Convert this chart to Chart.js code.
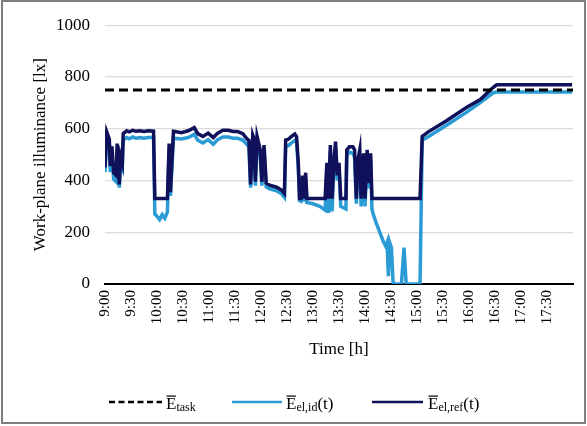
<!DOCTYPE html>
<html>
<head>
<meta charset="utf-8">
<script src="https://cdn.jsdelivr.net/npm/chart.js@4"></script>
<style>
  html, body { margin: 0; padding: 0; background: #fff; }
  #wrap { width: 587px; height: 426px; position: relative; }
</style>
</head>
<body>
<div id="wrap"><canvas id="c" width="587" height="426"></canvas></div>
<script>
// Minutes after 9:00 at which the illuminance was recorded
const minutes = [
  0, 2, 5, 6, 8, 10, 13, 14, 16.5, 18, 20, 21, 25, 28, 32, 36, 40, 45, 50, 56,
  57.5, 60, 63, 66, 69, 72, 74, 75.5, 79, 81, 88, 96, 103, 107, 113, 119, 125, 130,
  136, 142, 148, 153, 159, 163.5, 166, 168, 170.5, 172, 173.5, 175.5, 179, 181, 183.5,
  186, 190, 198, 204, 207, 208.5, 212, 215, 219, 221, 223, 224.5, 226, 228, 229.5,
  231.5, 233, 240, 248, 254, 256, 258, 260, 262, 264, 266, 268, 270, 272, 278, 279,
  282, 286, 288, 290, 292, 294, 295.5, 298.5, 300, 302.5, 304, 306.5, 308, 309, 313,
  317, 321, 324, 325.5, 327, 328.5, 330.5, 332.5, 342, 345, 347.5, 363.5, 366, 373,
  394, 417, 433, 448, 452, 539
];

// Reference electric-lighting illuminance E_el,ref(t) [lx]
const refLux = [
  450, 588, 560, 456, 532, 430, 420, 543, 385, 494, 468, 581, 592, 588, 594, 590, 592, 589, 592, 591,
  330, 330, 330, 330, 330, 330, 543, 355, 590, 589, 585, 592, 604, 581, 570, 583, 566, 583,
  594, 594, 589, 589, 581, 562, 555, 385, 575, 560, 395, 570, 520, 395, 537,
  390, 382, 374, 362, 350, 556, 560, 570, 580, 570, 470, 330, 330, 419, 330,
  430, 330, 330, 330, 330, 468, 330, 537, 330, 468, 550, 420, 468, 330, 330, 518,
  530, 530, 518, 330, 480, 518, 330, 505, 330, 518, 390, 505, 330, 330, 330,
  330, 330, 330, 330, 330, 330, 330, 330, 330, 330, 330, 330, 570, 588,
  631, 682, 713, 760, 770, 770
];

// Ideal electric-lighting illuminance E_el,id(t) [lx]
const idLux = [
  432, 565, 540, 432, 505, 405, 395, 520, 372, 470, 450, 555, 566, 561, 568, 563, 566, 563, 566, 566,
  270, 262, 249, 268, 254, 278, 520, 340, 565, 563, 560, 566, 578, 556, 545, 558, 540, 558,
  568, 568, 563, 563, 556, 540, 530, 372, 550, 535, 380, 545, 500, 380, 515,
  375, 368, 360, 348, 335, 530, 535, 545, 555, 550, 450, 322, 320, 400, 318,
  410, 315, 310, 300, 285, 440, 275, 510, 280, 445, 525, 400, 450, 300, 290, 495,
  510, 505, 490, 310, 455, 495, 300, 480, 300, 495, 370, 480, 290, 275, 235,
  200, 165, 145, 160, 30, 160, 140, 0, 0, 141, 0, 0, 555, 569,
  613, 663, 701, 739, 742, 742
];

// Required task illuminance E_task [lx]
const taskLux = 750;

// Half-hour tick labels from 9:00 to 17:30
const timeTicks = [
  '9:00', '9:30', '10:00', '10:30', '11:00', '11:30', '12:00', '12:30', '13:00',
  '13:30', '14:00', '14:30', '15:00', '15:30', '16:00', '16:30', '17:00', '17:30'
];

const FONT = '"Liberation Serif", "Times New Roman", serif';
const DARK = '#10115a';
const LIGHT = '#2b9bd6';

const pts = vals => minutes.map((m, i) => ({ x: m, y: vals[i] }));

// Border around the figure and the legend below the axis title
const frameAndLegend = {
  id: 'frameAndLegend',
  afterDraw(chart) {
    const ctx = chart.ctx;
    ctx.save();
    ctx.strokeStyle = '#7f7f7f';
    ctx.lineWidth = 2;
    ctx.strokeRect(2, 1, 583, 422);

    const ly = 402;
    const base = 409;
    const sample = (x0, x1, color, dash, width) => {
      ctx.beginPath();
      ctx.setLineDash(dash);
      ctx.strokeStyle = color;
      ctx.lineWidth = width;
      ctx.moveTo(x0, ly);
      ctx.lineTo(x1, ly);
      ctx.stroke();
      ctx.setLineDash([]);
    };
    const label = (x, sub, tail) => {
      ctx.fillStyle = '#000';
      ctx.textBaseline = 'alphabetic';
      ctx.textAlign = 'left';
      ctx.font = '17px ' + FONT;
      ctx.fillText('E', x, base);
      const w = ctx.measureText('E').width;
      ctx.fillRect(x + 0.5, base - 13.5, w - 1, 1.2);
      ctx.font = '12px ' + FONT;
      ctx.fillText(sub, x + w, base + 2);
      const sw = ctx.measureText(sub).width;
      if (tail) {
        ctx.font = '17px ' + FONT;
        ctx.fillText(tail, x + w + sw, base);
      }
    };
    sample(109, 162, '#000', [6, 3.5], 2.5);
    label(166, 'task', '');
    sample(232, 282, LIGHT, [], 2.5);
    label(286, 'el,id', '(t)');
    sample(372, 423, DARK, [], 2.5);
    label(428, 'el,ref', '(t)');
    ctx.restore();
  }
};

new Chart(document.getElementById('c'), {
  type: 'line',
  data: {
    datasets: [
      {
        label: 'E task',
        data: [{ x: 0, y: taskLux }, { x: 540, y: taskLux }],
        borderColor: '#000',
        borderWidth: 3,
        borderDash: [9, 5],
        pointRadius: 0,
        order: 1
      },
      {
        label: 'E el,id(t)',
        data: pts(idLux),
        borderColor: LIGHT,
        borderWidth: 3.5,
        pointRadius: 0,
        tension: 0,
        order: 3
      },
      {
        label: 'E el,ref(t)',
        data: pts(refLux),
        borderColor: DARK,
        borderWidth: 3.5,
        pointRadius: 0,
        tension: 0,
        order: 2
      }
    ]
  },
  options: {
    responsive: false,
    animation: false,
    events: [],
    layout: { padding: { left: 0, top: 19, right: 14, bottom: 50 } },
    plugins: {
      legend: { display: false },
      tooltip: { enabled: false }
    },
    scales: {
      x: {
        type: 'linear',
        min: 0,
        max: 540,
        afterBuildTicks: s => { s.ticks = s.ticks.filter(t => t.value < 540); },
        afterFit: s => { s.height = 92; },
        grid: { display: false, drawTicks: false },
        border: { display: true, color: '#000', width: 2 },
        ticks: {
          stepSize: 30,
          autoSkip: false,
          maxRotation: 90,
          minRotation: 90,
          padding: 6,
          color: '#000',
          font: { family: FONT, size: 15 },
          callback: v => timeTicks[Math.round(v / 30)]
        },
        title: {
          display: true,
          text: 'Time [h]',
          color: '#000',
          font: { family: FONT, size: 17 },
          padding: { top: 0, bottom: 16 }
        }
      },
      y: {
        min: 0,
        max: 1000,
        afterFit: s => { s.width = 105; },
        grid: { color: '#dcdcdc', lineWidth: 1.2, drawTicks: false },
        border: { display: false },
        ticks: {
          stepSize: 200,
          padding: 15,
          color: '#000',
          font: { family: FONT, size: 17 },
          callback: v => String(v)
        },
        title: {
          display: true,
          text: 'Work-plane illuminance [lx]',
          color: '#000',
          font: { family: FONT, size: 17 },
          padding: { top: 30, bottom: 0 }
        }
      }
    }
  },
  plugins: [frameAndLegend]
});
</script>
</body>
</html>
